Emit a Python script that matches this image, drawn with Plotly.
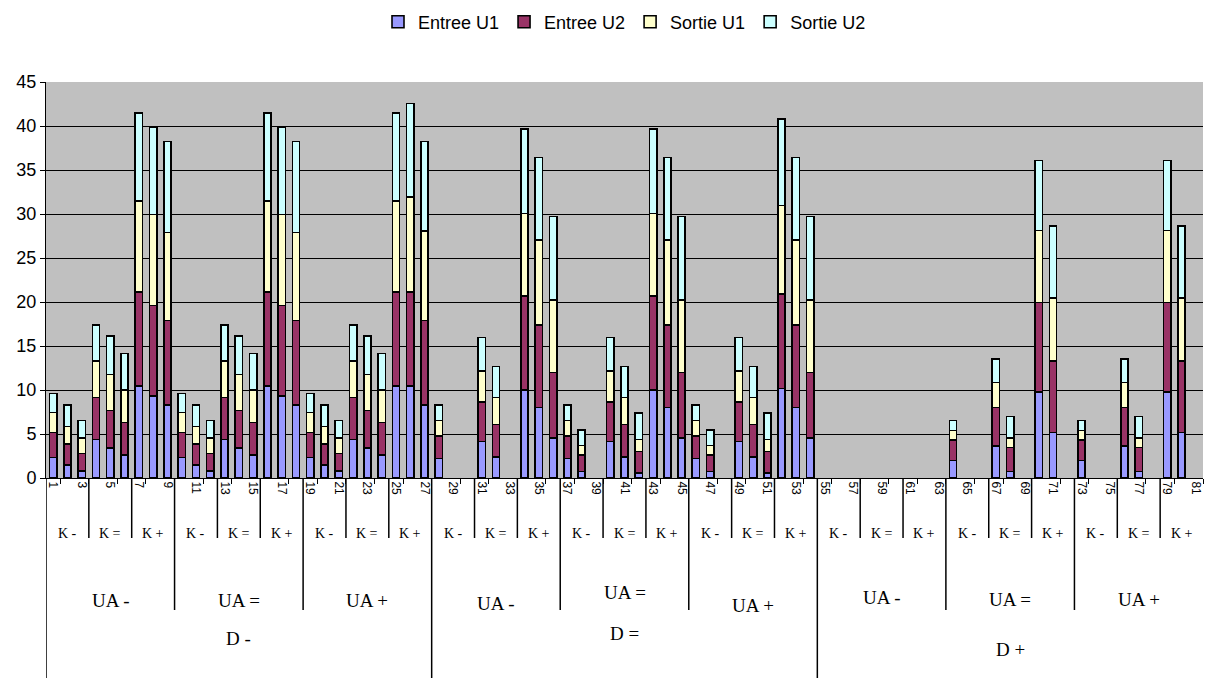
import plotly.graph_objects as go

categories = list(range(1, 82))
tick_labels = [str(c) for c in categories]

# Series values (stacked increments); None = no bar
entree_u1 = [2.35, 1.46, 0.83, 4.39, 3.42, 2.61, 10.45, 9.32, 8.30,
             2.35, 1.46, 0.83, 4.39, 3.42, 2.61, 10.45, 9.32, 8.30,
             2.35, 1.46, 0.83, 4.39, 3.42, 2.61, 10.45, 10.45, 8.30,
             2.23, None, None, 4.13, 2.42, None, 10.00, 8.03, 4.58,
             2.23, 0.72, None, 4.13, 2.42, 0.55, 10.00, 8.03, 4.58,
             2.23, 0.72, None, 4.13, 2.42, 0.55, 10.19, 8.03, 4.58,
             None, None, None, None, None, None, None, None, None,
             1.97, None, None, 3.64, 0.72, None, 9.77, 5.19, None,
             1.97, None, None, 3.64, 0.72, None, 9.77, 5.19, None]
entree_u2 = [2.84, 2.40, 1.97, 4.74, 4.23, 3.68, 10.72, 10.30, 9.58,
             2.84, 2.40, 1.97, 4.74, 4.23, 3.68, 10.72, 10.30, 9.58,
             2.84, 2.40, 1.97, 4.74, 4.23, 3.68, 10.72, 10.72, 9.58,
             2.54, None, None, 4.54, 3.68, None, 10.68, 9.36, 7.39,
             2.54, 1.89, None, 4.54, 3.68, 2.44, 10.68, 9.36, 7.39,
             2.54, 1.89, None, 4.54, 3.68, 2.44, 10.72, 9.36, 7.39,
             None, None, None, None, None, None, None, None, None,
             2.35, None, None, 4.39, 2.73, None, 10.19, 8.11, None,
             2.35, None, None, 4.39, 2.73, None, 10.19, 8.11, None]
sortie_u1 = [2.27, 2.01, 1.78, 4.17, 4.13, 3.71, 10.31, 10.34, 10.04,
             2.27, 2.01, 1.78, 4.17, 4.13, 3.71, 10.31, 10.34, 10.04,
             2.27, 2.01, 1.78, 4.17, 4.13, 3.71, 10.31, 10.73, 10.22,
             1.75, None, None, 3.49, 3.03, None, 9.40, 9.66, 8.26,
             1.75, 1.10, None, 3.49, 3.03, 1.40, 9.40, 9.66, 8.26,
             1.75, 1.10, None, 3.49, 3.03, 1.40, 10.07, 9.66, 8.26,
             None, None, None, None, None, None, None, None, None,
             1.06, None, None, 2.84, 1.13, None, 8.15, 7.15, None,
             1.06, None, None, 2.84, 1.13, None, 8.15, 7.15, None]
sortie_u2 = [2.16, 2.43, 1.94, 4.09, 4.36, 4.17, 10.00, 9.96, 10.30,
             2.16, 2.43, 1.94, 4.09, 4.36, 4.17, 10.00, 9.96, 10.30,
             2.16, 2.43, 1.94, 4.09, 4.36, 4.17, 10.00, 10.68, 10.12,
             1.78, None, None, 3.79, 3.52, None, 9.58, 9.39, 9.47,
             1.78, 1.74, None, 3.79, 3.52, 3.03, 9.58, 9.39, 9.47,
             1.78, 1.74, None, 3.79, 3.52, 3.03, 9.82, 9.39, 9.47,
             None, None, None, None, None, None, None, None, None,
             1.14, None, None, 2.65, 2.39, None, 7.95, 8.19, None,
             1.14, None, None, 2.65, 2.39, None, 7.95, 8.19, None]

series_names = ["Entree U1", "Entree U2", "Sortie U1", "Sortie U2"]
series_colors = ["#9999FF", "#993366", "#FFFFCC", "#CCFFFF"]

k_labels = ["K -", "K =", "K +"]
ua_labels = ["UA -", "UA =", "UA +"]
d_labels = ["D -", "D =", "D +"]

# Layout geometry (pixels)
W, H = 1205, 678
ML, MR, MT, MB = 46, 2, 82, 200
PH = H - MT - MB


def py(p):
    """pixel row -> paper y"""
    return (H - MB - p) / PH


fig = go.Figure()
for name, vals, col in zip(series_names, [entree_u1, entree_u2, sortie_u1, sortie_u2], series_colors):
    fig.add_trace(go.Bar(
        x=categories, y=vals, name=name,
        marker=dict(color=col, line=dict(color="black", width=1.6)),
    ))

shapes = []
annotations = []
n_k = len(categories) // 3
# boundary lines of the category hierarchy
for b in range(0, n_k):
    xb = 3 * b + 0.5
    if b % 9 == 0:
        y1 = -0.53
    elif b % 3 == 0:
        y1 = py(610)
    else:
        y1 = py(538)
    shapes.append(dict(type="line", xref="x", yref="paper", x0=xb, x1=xb,
                       y0=0, y1=y1, line=dict(color="black", width=1.5)))

# K labels
for b in range(n_k):
    annotations.append(dict(x=3 * b + 2, y=py(533), xref="x", yref="paper",
                            text=k_labels[b % 3], showarrow=False,
                            font=dict(family="Liberation Serif", size=14, color="black"),
                            xanchor="center", yanchor="middle"))
# UA labels
ua_rows = [600, 600, 600, 603, 592, 605, 597, 599, 599]
for u in range(9):
    annotations.append(dict(x=9 * u + 5, y=py(ua_rows[u]), xref="x", yref="paper",
                            text=ua_labels[u % 3], showarrow=False,
                            font=dict(family="Liberation Serif", size=19, color="black"),
                            xanchor="center", yanchor="middle"))
# D labels
d_rows = [638, 633, 649]
for d in range(3):
    annotations.append(dict(x=27 * d + 14, y=py(d_rows[d]), xref="x", yref="paper",
                            text=d_labels[d], showarrow=False,
                            font=dict(family="Liberation Serif", size=19, color="black"),
                            xanchor="center", yanchor="middle"))

fig.update_layout(
    width=W, height=H,
    margin=dict(l=ML, r=MR, t=MT, b=MB),
    barmode="stack", bargap=0.49,
    plot_bgcolor="#C0C0C0", paper_bgcolor="white",
    font=dict(family="Liberation Sans", color="black"),
    legend=dict(orientation="h", x=0.5, xanchor="center", y=py(22), yanchor="middle",
                font=dict(size=18, family="Liberation Sans"), itemwidth=30,
                traceorder="normal", bgcolor="rgba(0,0,0,0)"),
    shapes=shapes, annotations=annotations,
    xaxis=dict(range=[0.5, 81.5], tickmode="array",
               tickvals=categories[::2], ticktext=tick_labels[::2],
               tickangle=90, tickfont=dict(size=12, family="Liberation Sans"),
               showgrid=False, zeroline=False, showline=True, linecolor="black", linewidth=1,
               ticks="",
               minor=dict(tickmode="linear", tick0=1.5, dtick=2, ticks="outside",
                          ticklen=5, tickcolor="black", showgrid=False)),
    yaxis=dict(range=[0, 45], dtick=5, showgrid=True, gridcolor="black", gridwidth=1,
               zeroline=False, showline=True, linecolor="black", linewidth=1,
               ticks="outside", ticklen=5, tickcolor="black",
               tickfont=dict(size=18, family="Liberation Sans")),
)

fig.write_html("out.html", config={"displayModeBar": False},
               post_script="document.body.style.margin='0';document.body.style.overflow='hidden';")
